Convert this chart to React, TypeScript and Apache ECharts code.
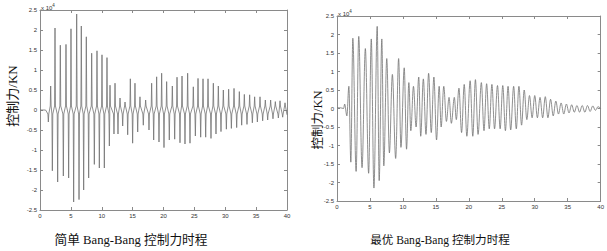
import React, { useEffect, useRef } from "react";
import * as echarts from "echarts";

// ---- Left chart: simple Bang-Bang (spikes) ----
const leftLeadT = [0, 0.9, 1.1];
const leftLeadV = [0, 0, -0.05];
const leftPosT = [1.73, 2.43, 3.29, 4.21, 5.02, 5.94, 6.69, 7.5, 8.37, 9.23, 10.04, 10.85, 11.34, 12.15, 12.96, 13.77, 14.63, 15.38, 16.19, 17.11, 18.08, 18.89, 19.7, 20.51, 21.43, 22.19, 23.0, 23.91, 24.83, 25.59, 26.4, 27.21, 28.07, 28.88, 29.69, 30.55, 31.42, 32.28, 33.09, 33.95, 34.76, 35.63, 36.49, 37.35, 38.11, 38.87, 39.68];
const leftPosV = [0.6, 2.05, 1.62, 1.64, 2.03, 2.4, 2.1, 1.83, 1.42, 1.48, 1.38, 1.31, 0.62, 0.67, 0.3, 0.2, 0.78, 0.67, 0.33, 0.25, 0.67, 0.83, 0.92, 0.71, 0.6, 0.82, 0.85, 0.92, 0.58, 0.79, 0.78, 0.78, 0.67, 0.6, 0.5, 0.52, 0.54, 0.46, 0.39, 0.38, 0.33, 0.33, 0.25, 0.25, 0.21, 0.23, 0.18];
const leftNegT = [1.35, 2.0, 2.86, 3.78, 4.64, 5.45, 6.32, 7.07, 7.88, 8.8, 9.61, 10.42, 11.23, 11.98, 12.63, 13.39, 14.2, 15.0, 15.82, 16.73, 17.65, 18.41, 19.27, 20.08, 20.94, 21.81, 22.67, 23.48, 24.29, 25.16, 26.02, 26.83, 27.69, 28.5, 29.31, 30.18, 30.99, 31.85, 32.66, 33.52, 34.39, 35.2, 36.06, 36.87, 37.73, 38.6, 39.3];
const leftNegV = [-0.3, -1.52, -1.8, -1.65, -1.7, -2.3, -2.24, -2.0, -1.7, -1.36, -1.45, -1.45, -0.9, -0.6, -0.6, -0.4, -0.62, -0.83, -0.55, -0.38, -0.5, -0.75, -0.8, -0.94, -0.75, -0.73, -0.82, -0.85, -0.83, -0.65, -0.68, -0.68, -0.71, -0.6, -0.54, -0.48, -0.46, -0.44, -0.38, -0.36, -0.32, -0.3, -0.27, -0.25, -0.22, -0.2, -0.18];
const leftTailT = [40];
const leftTailV = [-0.12];
const LEFT_BASE = 0.1;
const SPIKE_HALF = 0.07;

// ---- Right chart: optimal Bang-Bang (turning points) ----
const rightT = [0, 0.5, 1.0, 1.16, 1.5, 1.8, 2.1, 2.4, 2.9, 3.3, 3.8, 4.3, 4.8, 5.2, 5.6, 6.1, 6.4, 6.8, 7.1, 7.55, 7.95, 8.4, 8.9, 9.35, 9.7, 10.2, 10.55, 10.9, 11.2, 11.6, 12.0, 12.4, 12.7, 13.1, 13.5, 13.9, 14.3, 14.7, 15.1, 15.5, 15.8, 16.2, 16.6, 17.0, 17.35, 17.8, 18.1, 18.5, 18.9, 19.3, 19.7, 20.2, 20.6, 21.0, 21.4, 21.9, 22.3, 22.7, 23.1, 23.5, 23.9, 24.35, 24.75, 25.15, 25.55, 25.95, 26.35, 26.8, 27.2, 27.6, 28.0, 28.4, 28.8, 29.2, 29.6, 30.0, 30.4, 30.8, 31.2, 31.6, 32.0, 32.4, 32.8, 33.2, 33.6, 34.0, 34.4, 34.8, 35.2, 35.6, 36.0, 36.4, 36.8, 37.2, 37.6, 38.0, 38.4, 38.8, 39.2, 39.6, 40];
const rightV = [0.02, 0.02, 0.0, 0.12, -0.2, 0.6, -1.45, 1.9, -1.7, 1.95, -1.6, 1.62, -1.75, 1.88, -2.15, 2.22, -1.95, 1.88, -1.55, 1.35, -1.2, 0.92, -1.35, 1.35, -1.05, 1.1, -1.1, 0.7, -0.6, 0.6, -0.5, 0.85, -0.75, 0.8, -0.7, 0.95, -0.65, 0.85, -0.85, 0.6, -0.5, 0.6, -0.35, 0.3, -0.4, 0.3, -0.3, 0.55, -0.65, 0.65, -0.75, 0.75, -0.75, 0.78, -0.7, 0.7, -0.6, 0.67, -0.55, 0.65, -0.55, 0.62, -0.55, 0.62, -0.6, 0.6, -0.58, 0.6, -0.55, 0.6, -0.45, 0.5, -0.3, 0.35, -0.25, 0.35, -0.25, 0.3, -0.25, 0.32, -0.25, 0.25, -0.2, 0.2, -0.15, 0.15, -0.15, 0.12, -0.12, 0.1, -0.1, 0.08, -0.1, 0.08, -0.1, 0.08, -0.08, 0.07, -0.05, 0.05, 0.0];

const yLabel = "控制力/KN";
const leftTitle = "简单 Bang-Bang 控制力时程";
const rightTitle = "最优 Bang-Bang 控制力时程";

function buildLeft(): number[][] {
  const peaks: number[][] = [];
  leftPosT.forEach((t, i) => peaks.push([t, leftPosV[i]]));
  leftNegT.forEach((t, i) => peaks.push([t, leftNegV[i]]));
  peaks.sort((a, b) => a[0] - b[0]);
  const pts: number[][] = leftLeadT.map((t, i) => [t, leftLeadV[i]]);
  peaks.forEach(([t, v]) => {
    const b = v > 0 ? LEFT_BASE : -LEFT_BASE;
    pts.push([t - SPIKE_HALF, b], [t, v], [t + SPIKE_HALF, b]);
  });
  leftTailT.forEach((t, i) => pts.push([t, leftTailV[i]]));
  return pts;
}

const FONT = "'Liberation Serif', 'Noto Sans CJK SC', serif";
const AXC = "#8a8a8a";

function axesFor(gridIndex: number) {
  const lab = { fontSize: 6, color: "#333", fontFamily: "Arial, 'Liberation Sans', sans-serif", margin: 3 };
  const line = { show: true, onZero: false, lineStyle: { color: AXC, width: 1 } };
  const tick = { show: true, inside: true, length: 3, lineStyle: { color: AXC } };
  const x = [
    { type: "value", gridIndex, min: 0, max: 40, interval: 5, position: "bottom", axisLine: line, axisTick: tick, axisLabel: lab, splitLine: { show: false } },
    { type: "value", gridIndex, min: 0, max: 40, interval: 5, position: "top", axisLine: line, axisTick: tick, axisLabel: { show: false }, splitLine: { show: false } },
  ];
  const y = [
    { type: "value", gridIndex, min: -2.5, max: 2.5, interval: 0.5, position: "left", axisLine: line, axisTick: tick, axisLabel: lab, splitLine: { show: false } },
    { type: "value", gridIndex, min: -2.5, max: 2.5, interval: 0.5, position: "right", axisLine: line, axisTick: tick, axisLabel: { show: false }, splitLine: { show: false } },
  ];
  return { x, y };
}

export default function App() {
  const ref = useRef<HTMLDivElement>(null);
  useEffect(() => {
    if (!ref.current) return;
    const chart = echarts.init(ref.current, null, { renderer: "svg" });
    const a0 = axesFor(0);
    const a1 = axesFor(1);
    const leftData = buildLeft();
    const rightData = rightT.map((t, i) => [t, rightV[i]]);
    const expText = (x: number, y: number) => ({
      type: "text",
      left: x,
      top: y,
      style: {
        text: "{b|x 10}{s|4}",
        rich: {
          b: { fontSize: 6, fill: "#333", fontFamily: "Arial, sans-serif" },
          s: { fontSize: 4.5, fill: "#333", fontFamily: "Arial, sans-serif", verticalAlign: "top", padding: [0, 0, 4, 0] },
        },
      },
    });
    chart.setOption({
      animation: false,
      backgroundColor: "#ffffff",
      grid: [
        { left: 40, top: 10, width: 247, height: 200, show: false },
        { left: 337, top: 16, width: 265, height: 185, show: false },
      ],
      xAxis: [...a0.x, ...a1.x.map((ax) => ({ ...ax, gridIndex: 1 }))],
      yAxis: [...a0.y, ...a1.y.map((ax) => ({ ...ax, gridIndex: 1 }))],
      series: [
        {
          type: "line",
          xAxisIndex: 0,
          yAxisIndex: 0,
          data: leftData,
          showSymbol: false,
          symbol: "none",
          lineStyle: { color: "#727272", width: 0.8 },
        },
        {
          type: "line",
          xAxisIndex: 2,
          yAxisIndex: 2,
          data: rightData,
          showSymbol: false,
          symbol: "none",
          smooth: 0.35,
          smoothMonotone: "x",
          lineStyle: { color: "#727272", width: 0.8 },
        },
      ],
      graphic: [
        expText(41, 3),
        expText(338, 9),
        {
          type: "text",
          x: 12,
          y: 96,
          rotation: Math.PI / 2,
          style: { text: yLabel, fontSize: 13, fontFamily: FONT, fill: "#111", align: "center", verticalAlign: "middle" },
        },
        {
          type: "text",
          x: 318,
          y: 120,
          rotation: Math.PI / 2,
          style: { text: yLabel, fontSize: 12.5, fontFamily: FONT, fill: "#111", align: "center", verticalAlign: "middle" },
        },
        {
          type: "text",
          x: 131,
          y: 240,
          style: { text: leftTitle, fontSize: 12.7, fontFamily: FONT, fill: "#111", align: "center", verticalAlign: "middle" },
        },
        {
          type: "text",
          x: 440,
          y: 240,
          style: { text: rightTitle, fontSize: 11.6, fontFamily: FONT, fill: "#111", align: "center", verticalAlign: "middle" },
        },
      ],
    });
    return () => chart.dispose();
  }, []);
  return (
    <div
      ref={ref}
      style={{ position: "fixed", left: 0, top: 0, width: 607, height: 251, background: "#fff" }}
    />
  );
}
